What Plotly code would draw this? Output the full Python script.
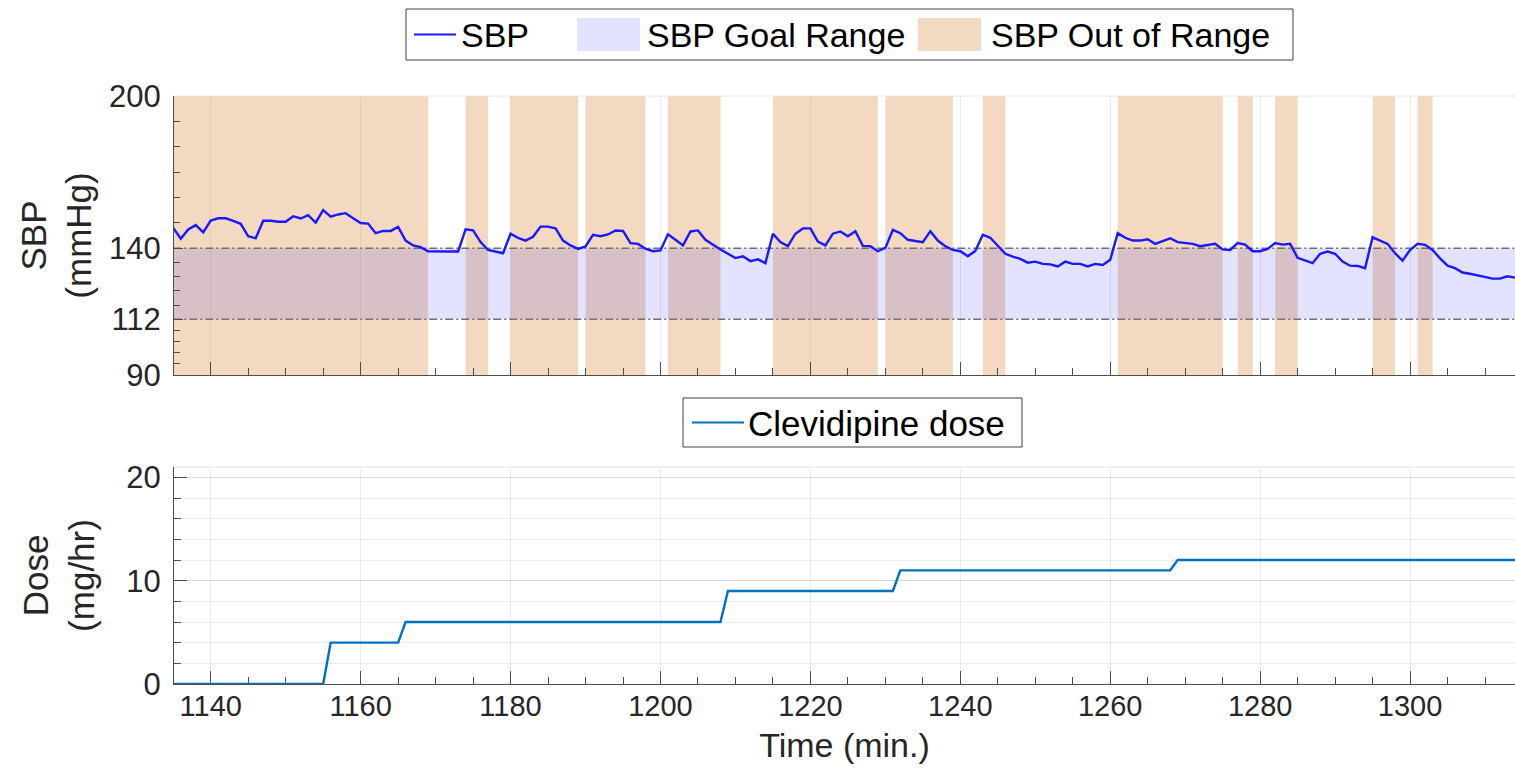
import plotly.graph_objects as go

# ---------------- data ----------------
time_min = list(range(1135, 1315))
sbp = [
    148.0, 143.7, 147.4, 149.1, 146.2, 150.9, 151.8, 151.8, 150.8, 149.6,   # 1135-1144
    144.7, 143.9, 150.8, 150.8, 150.4, 150.4, 152.6, 151.7, 153.0, 150.1,   # 1145-1154
    155.0, 152.4, 153.3, 153.8, 151.8, 149.9, 149.7, 145.9, 146.8, 146.8,   # 1155-1164
    148.4, 143.0, 141.1, 140.4, 138.8, 138.7, 138.7, 138.7, 138.7, 147.4,   # 1165-1174
    147.0, 142.4, 139.3, 138.8, 138.0, 145.7, 144.1, 143.0, 144.5, 148.5,   # 1175-1184
    148.5, 147.8, 143.0, 141.1, 139.7, 140.7, 145.3, 144.7, 145.4, 147.0,   # 1185-1194
    146.8, 142.0, 141.7, 139.8, 138.8, 139.1, 145.5, 143.3, 141.1, 146.6,   # 1195-1204
    147.0, 143.3, 141.3, 139.5, 137.8, 136.1, 136.8, 134.9, 135.6, 134.1,   # 1205-1214
    145.7, 142.4, 140.8, 145.7, 147.8, 147.8, 142.6, 141.1, 145.7, 146.6,   # 1215-1224
    144.7, 146.7, 140.9, 140.8, 138.8, 140.1, 147.2, 145.9, 143.3, 142.9,   # 1225-1234
    142.4, 146.7, 143.0, 140.8, 139.3, 138.8, 136.8, 138.9, 145.3, 144.1,   # 1235-1244
    140.8, 137.8, 136.7, 135.8, 134.3, 134.7, 133.8, 133.6, 132.8, 134.7,   # 1245-1254
    133.8, 133.8, 132.8, 133.8, 133.4, 135.4, 145.9, 144.1, 143.0, 143.0,   # 1255-1264
    143.5, 141.7, 142.8, 143.9, 142.4, 142.0, 141.7, 140.8, 141.3, 141.7,   # 1265-1274
    139.5, 139.3, 142.0, 141.4, 138.8, 138.8, 139.7, 142.0, 141.4, 141.7,   # 1275-1284
    136.2, 135.1, 134.1, 137.8, 138.7, 137.8, 134.7, 133.1, 133.0, 132.1,   # 1285-1294
    144.3, 143.0, 141.7, 138.0, 135.1, 139.3, 141.7, 141.3, 139.3, 136.0,   # 1295-1304
    133.1, 132.1, 130.4, 129.9, 129.3, 128.8, 128.0, 128.0, 128.9, 128.4,   # 1305-1314
]
goal_low = 112
goal_high = 140

dose_time = [1135, 1155, 1156, 1165, 1166, 1208, 1209, 1231, 1232, 1268, 1269, 1314]
dose = [0, 0, 4, 4, 6, 6, 9, 9, 11, 11, 12, 12]

x_ticks = [1140, 1160, 1180, 1200, 1220, 1240, 1260, 1280, 1300]
sbp_ticks = [90, 112, 140, 200]
dose_ticks = [0, 10, 20]

# ---------------- styles ----------------
W, H = 1515, 768
FONT = "Liberation Sans, Arial, Helvetica, sans-serif"
TXT = "#262626"
AX = "#4d4d4d"
GRID = "rgba(0,0,0,0.08)"
SBP_COLOR = "rgb(25,25,255)"
DOSE_COLOR = "#0072BD"
GOAL_FILL = "rgba(0,0,255,0.11)"
OUT_FILL = "rgba(218,146,75,0.35)"
SBP_RANGE = [90, 200]
DOSE_RANGE = [0, 21]
X_RANGE = [1135.1, 1314]


def xp(px):
    return px / W


def yp(py):
    return 1 - py / H


# out-of-range intervals derived from the SBP series
starts, ends = [], []
running = False
for t, v in zip(time_min, sbp):
    if v > goal_high and not running:
        starts.append(t)
        running = True
    elif v <= goal_high and running:
        ends.append(t)
        running = False
if running:
    ends.append(time_min[-1])

ox, oy = [], []
for s, e in zip(starts, ends):
    ox += [s, e, e, s, s, None]
    oy += [SBP_RANGE[0], SBP_RANGE[0], SBP_RANGE[1], SBP_RANGE[1], SBP_RANGE[0], None]

t0, t1 = time_min[0], time_min[-1]

fig = go.Figure()

fig.add_trace(go.Scatter(
    x=ox, y=oy, mode="lines", fill="toself", fillcolor=OUT_FILL,
    line=dict(width=0, color=OUT_FILL), name="SBP Out of Range",
    xaxis="x", yaxis="y", hoverinfo="skip"))

fig.add_trace(go.Scatter(
    x=[t0, t1, t1, t0, t0], y=[goal_low, goal_low, goal_high, goal_high, goal_low],
    mode="lines", fill="toself", fillcolor=GOAL_FILL,
    line=dict(width=0, color=GOAL_FILL), name="SBP Goal Range",
    xaxis="x", yaxis="y", hoverinfo="skip"))

for g in (goal_low, goal_high):
    fig.add_trace(go.Scatter(
        x=[t0, t1], y=[g, g], mode="lines",
        line=dict(color="#707070", width=1.5, dash="8px,3px,2px,3px"),
        showlegend=False, xaxis="x", yaxis="y", hoverinfo="skip"))

fig.add_trace(go.Scatter(
    x=time_min, y=sbp, mode="lines", line=dict(color=SBP_COLOR, width=2.4),
    name="SBP", xaxis="x", yaxis="y"))

fig.add_trace(go.Scatter(
    x=dose_time, y=dose, mode="lines", line=dict(color=DOSE_COLOR, width=2.4),
    name="Clevidipine dose", xaxis="x2", yaxis="y2"))

axis_common = dict(
    showline=True, linecolor=AX, linewidth=1, ticks="inside", tickcolor=AX,
    tickwidth=1, zeroline=False, automargin=False,
    tickfont=dict(family=FONT, size=31, color=TXT),
)

sbp_minor = [150, 160, 170, 180, 190, 134.4, 128.8, 123.2, 117.6,
             107.6, 103.2, 98.8, 94.4]

fig.update_layout(
    width=W, height=H,
    margin=dict(l=0, r=0, t=0, b=0),
    paper_bgcolor="white", plot_bgcolor="white",
    showlegend=False,
    font=dict(family=FONT, size=31, color=TXT),
    xaxis=dict(
        axis_common, domain=[xp(174), 1.0], range=X_RANGE, anchor="y",
        tickmode="array", tickvals=x_ticks, showticklabels=False, ticklen=13,
        showgrid=True, gridcolor=GRID, gridwidth=1,
        minor=dict(tickmode="array", tickvals=list(range(1135, 1315, 5)),
                   ticks="inside", ticklen=7, tickcolor=AX, showgrid=False),
    ),
    yaxis=dict(
        axis_common, domain=[yp(375), yp(96)], range=SBP_RANGE, anchor="x",
        tickmode="array", tickvals=sbp_ticks, ticklen=9, showgrid=False,
        ticklabelstandoff=6,
        minor=dict(tickmode="array", tickvals=sbp_minor, ticks="inside",
                   ticklen=6, tickcolor=AX, showgrid=False),
        title=dict(text="SBP<br>(mmHg)", font=dict(family=FONT, size=35, color=TXT),
                   standoff=6),
    ),
    xaxis2=dict(
        axis_common, domain=[xp(174), 1.0], range=X_RANGE, anchor="y2",
        tickmode="array", tickvals=x_ticks, ticklen=13,
        tickfont=dict(family=FONT, size=29, color=TXT),
        showgrid=True, gridcolor=GRID, gridwidth=1, ticklabelstandoff=-4,
        minor=dict(tickmode="array", tickvals=list(range(1135, 1315, 5)),
                   ticks="inside", ticklen=7, tickcolor=AX, showgrid=False),
        title=dict(text="Time (min.)", font=dict(family=FONT, size=34, color=TXT),
                   standoff=12),
    ),
    yaxis2=dict(
        axis_common, domain=[yp(684), yp(467)], range=DOSE_RANGE, anchor="x2",
        tickmode="array", tickvals=dose_ticks, ticklen=13,
        showgrid=True, gridcolor=GRID, gridwidth=1, ticklabelstandoff=6,
        minor=dict(tickmode="linear", tick0=0, dtick=2, ticks="inside",
                   ticklen=7, tickcolor=AX, showgrid=True, gridcolor=GRID),
        title=dict(text="Dose<br>(mg/hr)", font=dict(family=FONT, size=35, color=TXT),
                   standoff=21),
    ),
)

shapes = []
annotations = []

# faint top box edges
for ytop in (96, 467):
    shapes.append(dict(type="line", xref="paper", yref="paper",
                       x0=xp(174), x1=1.0, y0=yp(ytop), y1=yp(ytop),
                       line=dict(color="#e3e3e3", width=1)))

# ---- legend for the SBP panel ----
shapes.append(dict(type="rect", xref="paper", yref="paper",
                   x0=xp(406), x1=xp(1293), y0=yp(60), y1=yp(9),
                   line=dict(color="#404040", width=1), fillcolor="white"))
shapes.append(dict(type="line", xref="paper", yref="paper",
                   x0=xp(414), x1=xp(456), y0=yp(34.5), y1=yp(34.5),
                   line=dict(color=SBP_COLOR, width=2)))
shapes.append(dict(type="rect", xref="paper", yref="paper",
                   x0=xp(577), x1=xp(640), y0=yp(51), y1=yp(18),
                   line=dict(width=0), fillcolor=GOAL_FILL))
shapes.append(dict(type="rect", xref="paper", yref="paper",
                   x0=xp(918), x1=xp(981), y0=yp(51), y1=yp(18),
                   line=dict(width=0), fillcolor=OUT_FILL))
for label, px in (("SBP", 459), ("SBP Goal Range", 645), ("SBP Out of Range", 989)):
    annotations.append(dict(text=label, xref="paper", yref="paper",
                            x=xp(px), y=yp(35), xanchor="left", yanchor="middle",
                            showarrow=False, font=dict(family=FONT, size=34, color="black")))

# ---- legend for the dose panel ----
shapes.append(dict(type="rect", xref="paper", yref="paper",
                   x0=xp(683), x1=xp(1022), y0=yp(447), y1=yp(398),
                   line=dict(color="#404040", width=1), fillcolor="white"))
shapes.append(dict(type="line", xref="paper", yref="paper",
                   x0=xp(692), x1=xp(744), y0=yp(422.5), y1=yp(422.5),
                   line=dict(color=DOSE_COLOR, width=2)))
annotations.append(dict(text="Clevidipine dose", xref="paper", yref="paper",
                        x=xp(746), y=yp(423), xanchor="left", yanchor="middle",
                        showarrow=False, font=dict(family=FONT, size=35, color="black")))

fig.update_layout(shapes=shapes, annotations=annotations)

fig.write_html(
    "out.html",
    config={"displayModeBar": False},
    post_script="document.body.style.margin='0';document.body.style.overflow='hidden';",
)
